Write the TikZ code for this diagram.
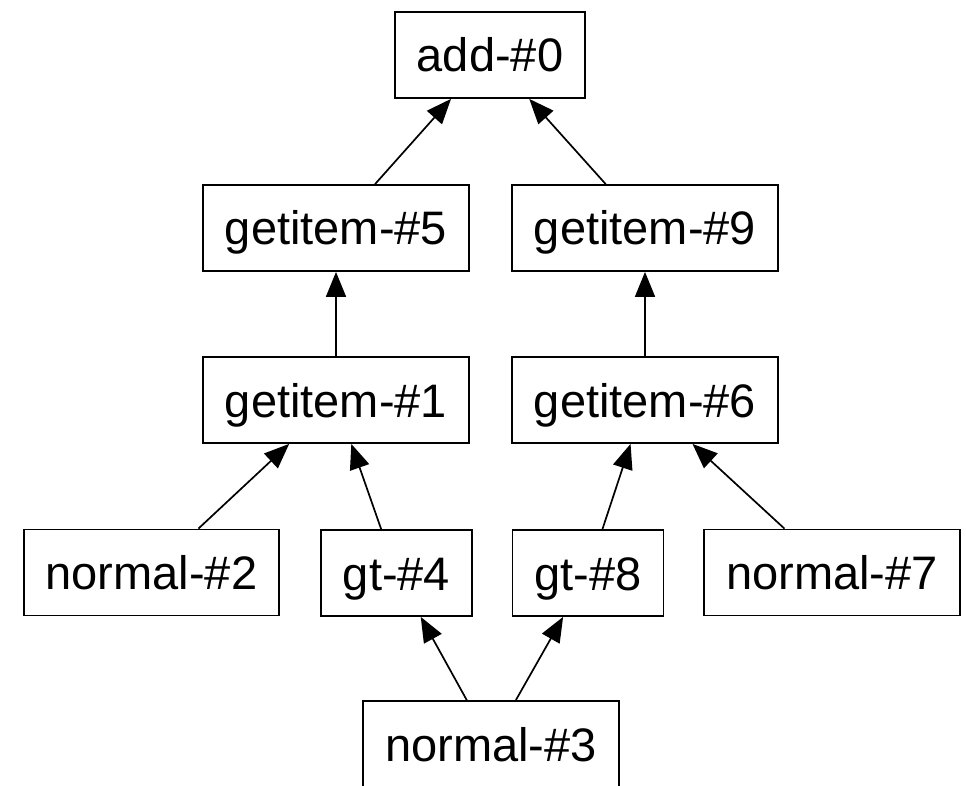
\documentclass[tikz,border=0pt]{standalone}
\usepackage{fontspec}
\setmainfont{Liberation Sans}
\usetikzlibrary{arrows.meta}

\tikzset{
  op/.style={draw, line width=1.8pt, minimum height=86pt, inner xsep=22pt,
    inner ysep=0pt, text height=34pt, text depth=0pt,
    font=\fontsize{47}{56}\selectfont},
  dep/.style={line width=1.7pt, -{Triangle[length=25pt,width=20pt]}}
}

\begin{document}
\begin{tikzpicture}[x=1pt,y=-1pt]
  \useasboundingbox (0,0) rectangle (966,786);
  \clip (0,0) rectangle (966,786);
  % top: the sum
  \node[op] (add0) at (490,55) {add-\#0};
  % getitem layers
  \node[op] (get5) at (336,228) {getitem-\#5};
  \node[op] (get9) at (645,228) {getitem-\#9};
  \node[op] (get1) at (336,400) {getitem-\#1};
  \node[op] (get6) at (645,400) {getitem-\#6};
  % inputs
  \node[op] (norm2) at (151.5,572.5) {normal-\#2};
  \node[op] (gt4) at (396.5,573) {gt-\#4};
  \node[op] (gt8) at (588,573) {gt-\#8};
  \node[op] (norm7) at (832,572.5) {normal-\#7};
  \node[op] (norm3) at (491,744) {normal-\#3};
  % edges
  \draw[dep] (get5) -- (add0);
  \draw[dep] (get9) -- (add0);
  \draw[dep] (get1) -- (get5);
  \draw[dep] (get6) -- (get9);
  \draw[dep] (norm2) -- (get1);
  \draw[dep] (gt4) -- (get1);
  \draw[dep] (gt8) -- (get6);
  \draw[dep] (norm7) -- (get6);
  \draw[dep] (norm3) -- (gt4);
  \draw[dep] (norm3) -- (gt8);
\end{tikzpicture}
\end{document}
